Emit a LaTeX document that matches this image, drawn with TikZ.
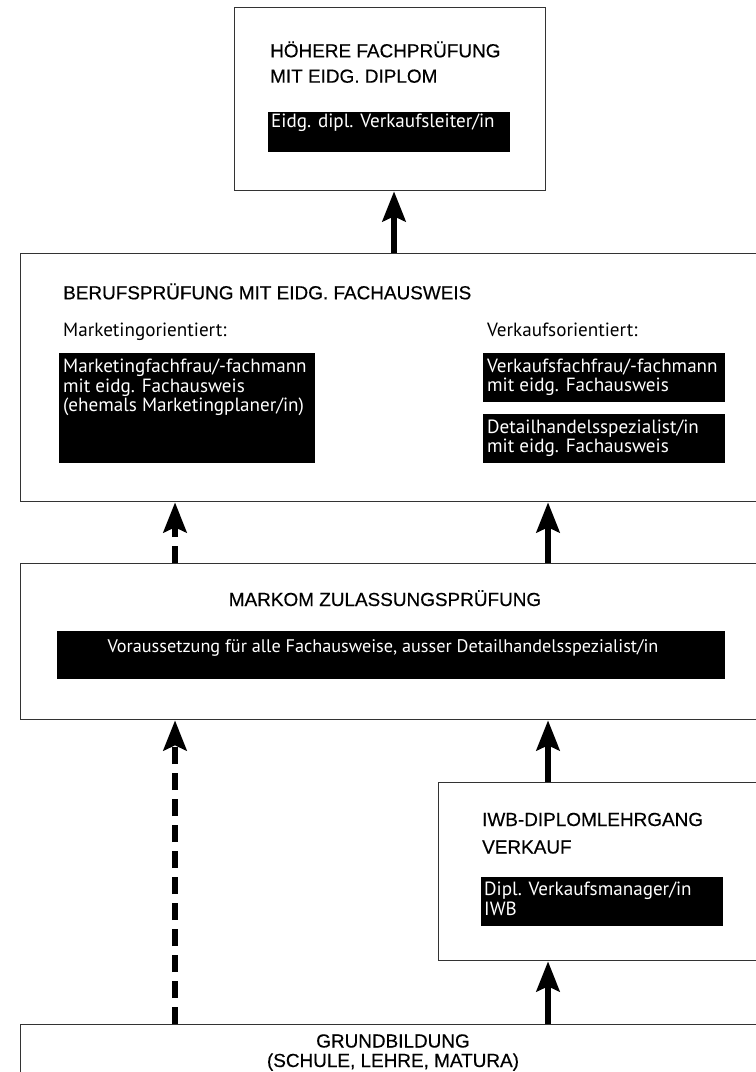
\documentclass[tikz,border=0pt]{standalone}
\usepackage{fontspec}
\setmainfont{PT Sans}
\newfontfamily\titlefont[FakeBold=0.4]{Liberation Sans}
\usetikzlibrary{arrows.meta}
\begin{document}
\begin{tikzpicture}[x=1bp,y=-1bp,
 frame/.style={draw=black!80,line width=1.3bp,fill=white,inner sep=0,anchor=north west},
 blk/.style={fill=black,inner sep=0,anchor=north west},
 ttl/.style={font=\titlefont\fontsize{19}{25}\selectfont,inner sep=0,anchor=base west},
 ttlc/.style={ttl,anchor=base},
 wt/.style={text=white,font=\fontsize{19.2}{21}\selectfont,inner sep=0,anchor=base west},
 wtc/.style={wt,anchor=base},
 lbl/.style={font=\fontsize{19.2}{21}\selectfont,inner sep=0,anchor=base west},
 arr/.style={line width=6.5bp,-{Stealth[length=30bp,width=23bp,inset=5bp]}},
 darr/.style={arr,dash pattern=on 17bp off 9bp}]
\clip (0,0) rectangle (756,1072);
\fill[white] (0,0) rectangle (756,1072);
% boxes
\node[frame,minimum width=311bp,minimum height=183bp] (b1) at (234,7) {};
\node[frame,minimum width=760bp,minimum height=248bp] (b2) at (20,253) {};
\node[frame,minimum width=760bp,minimum height=156bp] (b3) at (20,563) {};
\node[frame,minimum width=340bp,minimum height=178bp] (b4) at (438,782) {};
\node[frame,minimum width=760bp,minimum height=80bp] (b5) at (20,1024) {};
% box 1
\node[ttl] (t1a) at (270,57.3) {HÖHERE FACHPRÜFUNG};
\node[ttl] (t1b) at (270,82.7) {MIT EIDG. DIPLOM};
\node[blk,minimum width=242bp,minimum height=40bp] (k1) at (268,112) {};
\node[wt] (w1) at (271,127.3) {Eidg. dipl. Verkaufsleiter/in};
% box 2
\node[ttl] (t2) at (63,299.3) {BERUFSPRÜFUNG MIT EIDG. FACHAUSWEIS};
\node[lbl] (l2a) at (63,336.7) {Marketingorientiert:};
\node[lbl] (l2b) at (487,336.7) {Verkaufsorientiert:};
\node[blk,minimum width=256bp,minimum height=110bp] (k2a) at (59,353) {};
\node[wt] (w2a1) at (63,372.7) {Marketingfachfrau/-fachmann};
\node[wt] (w2a2) at (63,392) {mit eidg. Fachausweis};
\node[wt] (w2a3) at (63,411.3) {(ehemals Marketingplaner/in)};
\node[blk,minimum width=242bp,minimum height=49bp] (k2b) at (483,353) {};
\node[wt] (w2b1) at (487,372) {Verkaufsfachfrau/-fachmann};
\node[wt] (w2b2) at (487,391.3) {mit eidg. Fachausweis};
\node[blk,minimum width=242bp,minimum height=49bp] (k2c) at (483,414) {};
\node[wt] (w2c1) at (487,433) {Detailhandelsspezialist/in};
\node[wt] (w2c2) at (487,452.3) {mit eidg. Fachausweis};
% box 3
\node[ttlc] (t3) at (385,606) {MARKOM ZULASSUNGSPRÜFUNG};
\node[blk,minimum width=668bp,minimum height=48bp] (k3) at (57,631) {};
\node[wtc,font=\fontsize{18.3}{21}\selectfont] (w3) at (383,652) {Voraussetzung für alle Fachausweise, ausser Detailhandelsspezialist/in};
% box 4
\node[ttl] (t4a) at (482,826) {IWB-DIPLOMLEHRGANG};
\node[ttl] (t4b) at (482,853.5) {VERKAUF};
\node[blk,minimum width=242bp,minimum height=49bp] (k4) at (481,877) {};
\node[wt] (w4a) at (484,895.7) {Dipl. Verkaufsmanager/in};
\node[wt] (w4b) at (484,915.5) {IWB};
% box 5
\node[ttlc] (t5a) at (393,1047.5) {GRUNDBILDUNG};
\node[ttlc] (t5b) at (393,1067) {(SCHULE, LEHRE, MATURA)};
% arrows
\coordinate (xa) at (394,0);
\coordinate (xl) at (175,0);
\coordinate (xr) at (548,0);
\draw[arr] (b2.north -| xa) -- (b1.south -| xa);
\draw[darr] (b3.north -| xl) -- (b2.south -| xl);
\draw[arr] (b3.north -| xr) -- (b2.south -| xr);
\draw[darr] (b5.north -| xl) -- (b3.south -| xl);
\draw[arr] (b4.north -| xr) -- (b3.south -| xr);
\draw[arr] (b5.north -| xr) -- (b4.south -| xr);
\end{tikzpicture}
\end{document}
